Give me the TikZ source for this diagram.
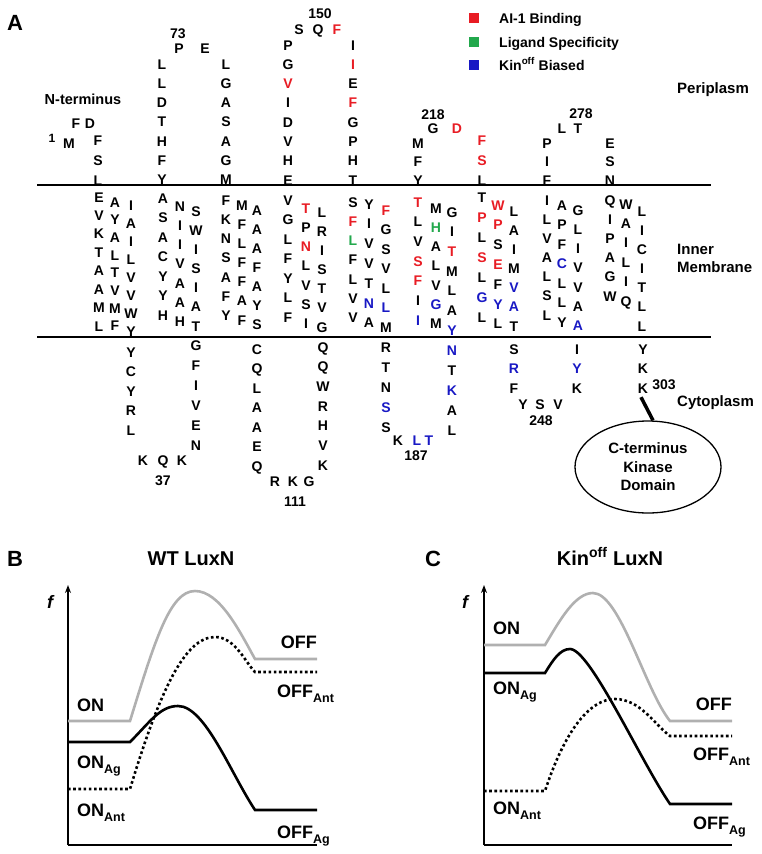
\documentclass[tikz,border=0pt]{standalone}
\usepackage{fontspec}
\setmainfont{Liberation Sans}
\usetikzlibrary{arrows.meta,shapes.geometric}
\definecolor{aired}{RGB}{232,28,36}
\definecolor{ligreen}{RGB}{34,168,76}
\definecolor{kinblue}{RGB}{24,24,196}
\definecolor{curvegray}{RGB}{176,176,176}
\newcommand\cR{\color{aired}}
\newcommand\cG{\color{ligreen}}
\newcommand\cB{\color{kinblue}}
\newcommand\seqcol[5]{\foreach \l [count=\i] in {#5}{\node[aa] (#1-\i) at (#2,{#3+(\i-1)*#4+5}) {\l};}}
\newcommand\subtxt[1]{\raisebox{-5pt}{\fontsize{12.5}{12.5}\selectfont #1}}
\begin{document}
\begin{tikzpicture}[x=1pt,y=-1pt,
  aa/.style={font=\fontsize{14}{14}\selectfont\bfseries,anchor=base,inner sep=0pt},
  num/.style={font=\fontsize{14}{14}\selectfont\bfseries,anchor=base,inner sep=0pt},
  lbl/.style={font=\fontsize{15}{15}\selectfont\bfseries,anchor=base west,inner sep=0pt},
  leg/.style={font=\fontsize{14}{14}\selectfont\bfseries,anchor=base west,inner sep=0pt},
  panel/.style={font=\fontsize{22}{22}\selectfont\bfseries,anchor=base west,inner sep=0pt},
  ttl/.style={font=\fontsize{20}{20}\selectfont\bfseries,anchor=base,inner sep=0pt},
  st/.style={font=\fontsize{18}{18}\selectfont\bfseries,inner sep=0pt},
  memline/.style={line width=2pt},
  axis/.style={line width=2pt},
  gcurve/.style={line width=2.6pt,curvegray},
  bcurve/.style={line width=2.6pt,black},
  dcurve/.style={line width=2.6pt,black,dash pattern=on 2.6pt off 2.6pt}]
\useasboundingbox (0,0) rectangle (762,854);

% ---------- Panel A ----------
\node[panel] (pA) at (7,30) {A};
\coordinate (mtl) at (37,185); \coordinate (mtr) at (711,185);
\coordinate (mbl) at (37,337); \coordinate (mbr) at (711,337);
\draw[memline] (mtl) -- (mtr);
\draw[memline] (mbl) -- (mbr);

% legend
\node[fill=aired,minimum size=10pt,inner sep=0pt] (sqR) at (474,18) {};
\node[fill=ligreen,minimum size=10pt,inner sep=0pt] (sqG) at (474,42) {};
\node[fill=kinblue,minimum size=10pt,inner sep=0pt] (sqB) at (474,65) {};
\node[leg] (tR) at (499,23) {AI-1 Binding};
\node[leg] (tG) at (499,47) {Ligand Specificity};
\node[leg] (tB) at (499,70) {Kin\textsuperscript{off} Biased};

\node[lbl] (peri) at (677,93.5) {Periplasm};
\node[lbl] (inm1) at (677,254.5) {Inner};
\node[lbl] (inm2) at (677,272.5) {Membrane};
\node[lbl] (cyto) at (677,406.5) {Cytoplasm};
\node[font=\fontsize{14.5}{14.5}\selectfont\bfseries,inner sep=0pt] (nterm) at (83,99) {N-terminus};

% periplasm singletons
\node[font=\fontsize{12}{12}\selectfont\bfseries,anchor=base,inner sep=0pt] (n1) at (52,142.3) {1};
\node[aa] (sM1) at (69,148) {M};
\node[aa] (sF1) at (76,128) {F};
\node[aa] (sD1) at (90,128) {D};
\node[num] (n73) at (178,38) {73};
\node[aa] (sP1) at (179,53) {P};
\node[aa] (sE1) at (205,53) {E};
\node[num] (n150) at (320,18) {150};
\node[aa] (sS1) at (299,34) {S};
\node[aa] (sQ1) at (318,34) {Q};
\node[aa] (sF2) at (337,34) {\cR F};
\node[num] (n218) at (433,119) {218};
\node[aa] (sG1) at (433,133) {G};
\node[aa] (sD2) at (457,133) {\cR D};
\node[num] (n278) at (581,118) {278};
\node[aa] (sL1) at (562,133) {L};
\node[aa] (sT1) at (578,133) {T};

% periplasm columns
\seqcol{pa}{98}{140}{20}{F,S,L}
\seqcol{pb}{162}{64}{19.33}{L,L,D,T,H,F,Y}
\seqcol{pc}{226}{64}{19.33}{L,G,A,S,A,G,M}
\seqcol{pd}{288}{45}{19.29}{P,G,\cR V,I,D,V,H,E}
\seqcol{pe}{353}{45}{19.29}{I,\cR I,E,\cR F,G,P,H,T}
\seqcol{pf}{418}{143}{18.5}{M,F,Y}
\seqcol{pg}{482}{140}{20}{\cR F,\cR S,L}
\seqcol{ph}{547}{143}{18.5}{P,I,F}
\seqcol{pi}{610}{143}{18.5}{E,S,N}

% membrane columns
\seqcol{ma}{99}{197}{18.43}{E,V,K,T,A,A,M,L}
\seqcol{mb}{115}{202}{17.7}{A,Y,A,L,T,V,M,F}
\seqcol{mc}{131}{205}{18.1}{I,A,I,L,V,V,W,Y}
\seqcol{md}{163}{198}{19.5}{A,S,A,C,Y,Y,H}
\seqcol{me}{180}{206}{19.33}{N,I,I,V,A,A,H}
\seqcol{mf}{196}{211}{19.17}{S,W,I,S,I,A,T}
\seqcol{mg}{226}{200}{19.33}{F,K,N,S,A,F,Y}
\seqcol{mh}{242}{205}{19.17}{M,F,L,F,F,A,F}
\seqcol{mi}{257}{210}{19}{A,A,A,F,A,Y,S}
\seqcol{mj}{288}{200}{19.5}{V,G,L,F,Y,L,F}
\seqcol{mk}{306}{208}{19.33}{\cR T,P,\cR N,L,V,S,I}
\seqcol{ml}{322}{212}{19.17}{L,R,I,S,T,V,G}
\seqcol{mm}{353}{202}{19.33}{S,\cR F,\cG L,F,L,V,V}
\seqcol{mn}{369}{204}{19.83}{Y,I,V,V,T,\cB N,A}
\seqcol{mo}{386}{210}{19.5}{\cR F,G,S,V,L,\cB L,M}
\seqcol{mp}{418}{202}{19.67}{\cR T,L,V,\cR S,\cR F,I,\cB I}
\seqcol{mq}{436}{208}{19.33}{M,\cG H,A,L,V,\cB G,M}
\seqcol{mr}{452}{212}{19.67}{G,I,\cR T,M,L,A,\cB Y}
\seqcol{ms}{482}{197}{20}{T,\cR P,L,\cR S,L,\cB G,L}
\seqcol{mt}{498}{205}{19.83}{\cR W,\cR P,S,\cR E,F,\cB Y,L}
\seqcol{mu}{514}{211}{19.17}{L,A,I,M,\cB V,\cB A,T}
\seqcol{mv}{547}{200}{19.17}{I,L,V,A,L,S,L}
\seqcol{mw}{562}{205}{19.5}{A,P,F,\cB C,L,L,Y}
\seqcol{mx}{578}{210}{19.33}{G,L,I,V,V,A,\cB A}
\seqcol{my}{610}{200}{19.2}{Q,I,P,A,G,W}
\seqcol{mz}{626}{204}{19.4}{W,A,I,L,I,Q}
\seqcol{mzz}{642}{211}{19.17}{L,I,C,I,T,L,L}

% cytoplasm columns
\seqcol{ca}{131}{352}{19.5}{Y,C,Y,R,L}
\node[aa] (cK1) at (143,465) {K};
\node[aa] (cQ1) at (163,465) {Q};
\node[aa] (cK2) at (182,465) {K};
\node[num] (n37) at (163,485) {37};
\seqcol{cb}{196}{345}{20}{G,F,I,V,E,N}
\seqcol{cc}{257}{349}{19.5}{C,Q,L,A,A,E,Q}
\node[aa] (cR1) at (275,486) {R};
\node[aa] (cK3) at (293,486) {K};
\node[aa] (cG1) at (309,486) {G};
\node[num] (n111) at (295,506) {111};
\seqcol{cd}{323}{347}{19.67}{Q,Q,W,R,H,V,K}
\seqcol{ce}{386}{347}{20}{R,T,N,\cB S,S}
\node[aa] (cK4) at (398,445) {K};
\node[aa] (cL1) at (417,445) {\cB L};
\node[aa] (cT1) at (429,445) {\cB T};
\node[num] (n187) at (416,460) {187};
\seqcol{cf}{452}{350}{20}{\cB N,T,\cB K,A,L}
\seqcol{cg}{514}{349}{19.5}{S,\cB R,F}
\node[aa] (cY1) at (523,409) {Y};
\node[aa] (cS1) at (540,409) {S};
\node[aa] (cV1) at (558,409) {V};
\node[num] (n248) at (541,425) {248};
\seqcol{ch}{577}{349}{19.5}{I,\cB Y,K}
\seqcol{ci}{643}{349}{19.5}{Y,K,K}
\node[num] (n303) at (664,389) {303};

\node[draw,ellipse,line width=1.3pt,minimum width=146pt,minimum height=92pt,inner sep=0pt,
  align=center,font=\fontsize{15}{18.5}\selectfont\bfseries] (ell) at (648,467) {C-terminus\\Kinase\\Domain};
\draw[line width=3.5pt] ([shift={(-2,4)}]ci-3.south) -- ([xshift=5pt]ell.north);

% ---------- Panel B ----------
\node[panel] (pB) at (7,566) {B};
\node[ttl] (tB1) at (191,565) {WT LuxN};
\coordinate (bO) at (68,845); \coordinate (bT) at (68,585); \coordinate (bR) at (317,845);
\draw[axis,-{Stealth[length=8pt,width=6pt]}] (bO) -- (bT);
\draw[axis] (bO) -- (bR);
\node[font=\fontsize{18}{18}\selectfont\bfseries\itshape,inner sep=0pt] (fB) at (50,602) {f};
\draw[gcurve] (68,721) -- (130,721) .. controls (155,640) and (170,591) .. (195,591)
   .. controls (220,591) and (240,632) .. (255,659) -- (317,659);
\draw[dcurve] (68,789) -- (130,789) .. controls (160,690) and (185,637) .. (215,637)
   .. controls (235,637) and (245,662) .. (255,672) -- (317,672);
\draw[bcurve] (68,742) -- (130,742) .. controls (150,722) and (160,706) .. (178,706)
   .. controls (205,706) and (230,772) .. (255,810) -- (317,810);
\node[st,anchor=base west] (bON) at (77,711.5) {ON};
\node[st,anchor=base west] (bONag) at (77,768) {ON\subtxt{Ag}};
\node[st,anchor=base west] (bONant) at (77,816.5) {ON\subtxt{Ant}};
\node[st,anchor=base east] (bOFF) at (317,648) {OFF};
\node[st,anchor=base west] (bOFFant) at (277,697.5) {OFF\subtxt{Ant}};
\node[st,anchor=base west] (bOFFag) at (277,838.5) {OFF\subtxt{Ag}};

% ---------- Panel C ----------
\node[panel] (pC) at (425,566) {C};
\node[ttl] (tC1) at (610,565) {Kin\textsuperscript{off} LuxN};
\coordinate (cO) at (484,845); \coordinate (cT) at (484,585); \coordinate (cRr) at (732,845);
\draw[axis,-{Stealth[length=8pt,width=6pt]}] (cO) -- (cT);
\draw[axis] (cO) -- (cRr);
\node[font=\fontsize{18}{18}\selectfont\bfseries\itshape,inner sep=0pt] (fC) at (465,602) {f};
\draw[gcurve] (484,645) -- (545,645) .. controls (560,620) and (575,593) .. (593,593)
   .. controls (620,593) and (645,690) .. (670,721) -- (732,721);
\draw[dcurve] (484,791) -- (545,791) .. controls (565,730) and (590,699) .. (615,699)
   .. controls (640,699) and (655,725) .. (670,736) -- (732,736);
\draw[bcurve] (484,673) -- (545,673) .. controls (553,660) and (560,649) .. (570,649)
   .. controls (590,649) and (640,760) .. (670,804) -- (732,804);
\node[st,anchor=base west] (cON) at (493,634.5) {ON};
\node[st,anchor=base west] (cONag) at (493,694.5) {ON\subtxt{Ag}};
\node[st,anchor=base west] (cONant) at (493,814.5) {ON\subtxt{Ant}};
\node[st,anchor=base east] (cOFF) at (732,710.5) {OFF};
\node[st,anchor=base west] (cOFFant) at (693,760.5) {OFF\subtxt{Ant}};
\node[st,anchor=base west] (cOFFag) at (693,829.5) {OFF\subtxt{Ag}};
\end{tikzpicture}
\end{document}
